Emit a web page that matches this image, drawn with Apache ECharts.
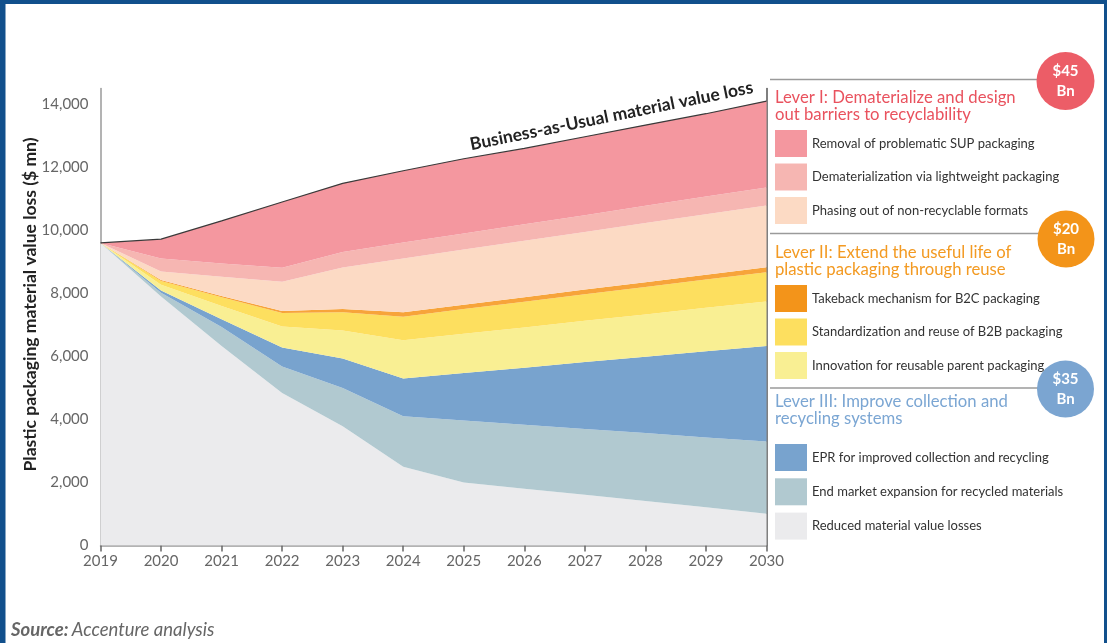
<!DOCTYPE html>
<html>
<head>
<meta charset="utf-8">
<script src="https://cdn.jsdelivr.net/npm/echarts@6/dist/echarts.min.js"></script>
<style>
html,body{margin:0;padding:0;background:#fff;}
#chart{width:1107px;height:643px;}
</style>
</head>
<body>
<div id="chart"></div>
<script>
// ---- data ----
const years = ['2019','2020','2021','2022','2023','2024','2025','2026','2027','2028','2029','2030'];
const yTicks = [0, 2000, 4000, 6000, 8000, 10000, 12000, 14000];

// layer thicknesses ($ mn), stacked bottom -> top
const reducedLosses    = [9600, 7900, 6330, 4840, 3780, 2500, 2000, 1800, 1610, 1410, 1210, 1010];
const endMarket        = [0, 120, 600, 840, 1220, 1600, 1970, 2030, 2090, 2160, 2220, 2290];
const eprCollection    = [0, 70, 250, 600, 930, 1200, 1500, 1810, 2120, 2420, 2730, 3030];
const innovationReuse  = [0, 180, 420, 670, 890, 1210, 1250, 1280, 1310, 1340, 1380, 1410];
const standardB2B      = [0, 120, 280, 430, 580, 750, 780, 810, 840, 870, 900, 930];
const takebackB2C      = [0, 30, 40, 60, 100, 140, 140, 150, 150, 150, 150, 160];
const phasingOut       = [0, 270, 610, 930, 1320, 1710, 1750, 1790, 1830, 1880, 1920, 1960];
const lightweight      = [0, 420, 420, 445, 490, 500, 510, 520, 530, 550, 560, 570];
const removalSUP       = [0, 610, 1350, 2085, 2180, 2280, 2370, 2410, 2490, 2560, 2630, 2740];

const names = {
  sup: 'Removal of problematic SUP packaging',
  light: 'Dematerialization via lightweight packaging',
  phase: 'Phasing out of non-recyclable formats',
  take: 'Takeback mechanism for B2C packaging',
  std: 'Standardization and reuse of B2B packaging',
  innov: 'Innovation for reusable parent packaging',
  epr: 'EPR for improved collection and recycling',
  end: 'End market expansion for recycled materials',
  red: 'Reduced material value losses'
};
const colors = {
  sup: '#f4979f', light: '#f6b6b2', phase: '#fcdac4',
  take: '#f7a43a', std: '#fddf5f', innov: '#f9ef93',
  epr: '#78a3ce', end: '#b1c9d0', red: '#ebebed'
};
const legendColors = Object.assign({}, colors, {take: '#f3941a'});

const FONT = 'Lato, "Noto Sans", sans-serif';

function area(key, data, extra) {
  return Object.assign({
    name: names[key], type: 'line', stack: 'total', data: data,
    symbol: 'none', showSymbol: false, smooth: false,
    color: colors[key],
    lineStyle: {width: 0, color: colors[key]},
    areaStyle: {color: colors[key], opacity: 1},
    emphasis: {disabled: true}, silent: true
  }, extra || {});
}

function legendBlock(keys, top, gap) {
  return {
    show: true, orient: 'vertical', left: 775, top: top,
    itemWidth: 32, itemHeight: 27, itemGap: gap, icon: 'rect',
    selectedMode: false, padding: 0,
    textStyle: {fontFamily: FONT, fontSize: 13, color: '#333'},
    data: keys.map(k => ({name: names[k], itemStyle: {color: legendColors[k], borderWidth: 0}}))
  };
}

const chart = echarts.init(document.getElementById('chart'));
const fmt = v => v > 14000 ? '' : String(v).replace(/\B(?=(\d{3})+(?!\d))/g, ',');

chart.setOption({
  animation: false,
  backgroundColor: '#ffffff',
  grid: {left: 100.5, top: 88.5, width: 666, height: 457},
  xAxis: {
    type: 'category', data: years, boundaryGap: false,
    axisLine: {lineStyle: {color: '#9a9a9a', width: 1.5}},
    axisTick: {show: true, length: 6, lineStyle: {color: '#666', width: 1.5}},
    axisLabel: {color: '#666', fontFamily: FONT, fontSize: 15, margin: 8},
    splitLine: {show: false}
  },
  yAxis: [{
    type: 'value', min: 0, max: 14500, interval: 2000,
    axisLine: {show: true, lineStyle: {color: '#9a9a9a', width: 1.5}},
    axisTick: {show: false},
    axisLabel: {color: '#666', fontFamily: FONT, fontSize: 15, margin: 12, formatter: fmt, showMaxLabel: false},
    splitLine: {show: false}
  }, {
    type: 'value', min: 0, max: 14500, interval: 2000, position: 'right',
    axisLine: {show: true, lineStyle: {color: '#555', width: 1.5}},
    axisTick: {show: false}, axisLabel: {show: false}, splitLine: {show: false}
  }],
  legend: [
    legendBlock(['sup', 'light', 'phase'], 130, 6.5),
    legendBlock(['take', 'std', 'innov'], 285, 6.5),
    legendBlock(['epr', 'end', 'red'], 444, 7.3)
  ],
  series: [
    area('red', reducedLosses),
    area('end', endMarket),
    area('epr', eprCollection),
    area('innov', innovationReuse),
    area('std', standardB2B),
    area('take', takebackB2C),
    area('phase', phasingOut),
    area('light', lightweight),
    area('sup', removalSUP, {lineStyle: {width: 1.2, color: '#3a3a3a'}, z: 3})
  ],
  graphic: [
    // frame
    {type: 'rect', shape: {x: 0, y: 0, width: 1107, height: 4}, style: {fill: '#11508c'}, silent: true},
    {type: 'rect', shape: {x: 0, y: 0, width: 5.5, height: 643}, style: {fill: '#11508c'}, silent: true},
    {type: 'rect', shape: {x: 1104, y: 0, width: 3, height: 643}, style: {fill: '#11508c'}, silent: true},
    // y axis title
    {type: 'text', x: 30, y: 304.5, rotation: Math.PI / 2,
     style: {text: 'Plastic packaging material value loss ($ mn)', fill: '#222', font: 'bold 17.5px ' + FONT, align: 'center', verticalAlign: 'middle'}, silent: true},
    // separators
    {type: 'line', shape: {x1: 770, y1: 79.5, x2: 1040, y2: 79.5}, style: {stroke: '#9a9a9a', lineWidth: 1.5}, silent: true},
    {type: 'line', shape: {x1: 770, y1: 233.5, x2: 1040, y2: 233.5}, style: {stroke: '#9a9a9a', lineWidth: 1.5}, silent: true},
    {type: 'line', shape: {x1: 770, y1: 388, x2: 1040, y2: 388}, style: {stroke: '#9a9a9a', lineWidth: 1.5}, silent: true},
    // circles
    {type: 'circle', shape: {cx: 1065.5, cy: 81, r: 29}, style: {fill: '#ec5d67'}, silent: true},
    {type: 'text', x: 1065.5, y: 81, style: {text: '$45\nBn', fill: '#fff', font: 'bold 15px ' + FONT, align: 'center', verticalAlign: 'middle', lineHeight: 20}, silent: true},
    {type: 'circle', shape: {cx: 1066, cy: 239, r: 28.5}, style: {fill: '#f39419'}, silent: true},
    {type: 'text', x: 1066, y: 239, style: {text: '$20\nBn', fill: '#fff', font: 'bold 15px ' + FONT, align: 'center', verticalAlign: 'middle', lineHeight: 20}, silent: true},
    {type: 'circle', shape: {cx: 1065.5, cy: 389, r: 28.5}, style: {fill: '#7ba5d1'}, silent: true},
    {type: 'text', x: 1065.5, y: 389, style: {text: '$35\nBn', fill: '#fff', font: 'bold 15px ' + FONT, align: 'center', verticalAlign: 'middle', lineHeight: 20}, silent: true},
    // lever headings
    {type: 'text', x: 775, y: 89.5, style: {text: 'Lever I: Dematerialize and design\nout barriers to recyclability', fill: '#e9525e', font: '16.7px ' + FONT, lineHeight: 17, verticalAlign: 'top'}, silent: true},
    {type: 'text', x: 775, y: 244, style: {text: 'Lever II: Extend the useful life of\nplastic packaging through reuse', fill: '#f39a22', font: '16.7px ' + FONT, lineHeight: 17, verticalAlign: 'top'}, silent: true},
    {type: 'text', x: 775, y: 393.5, style: {text: 'Lever III: Improve collection and\nrecycling systems', fill: '#7ba6d3', font: '16.7px ' + FONT, lineHeight: 17, verticalAlign: 'top'}, silent: true},
    // BAU label
    {type: 'text', x: 611.5, y: 116, rotation: 11.5 * Math.PI / 180,
     style: {text: 'Business-as-Usual material value loss', fill: '#222', font: 'bold 17.5px ' + FONT, align: 'center', verticalAlign: 'middle'}, silent: true},
    // source
    {type: 'text', x: 11, y: 630, style: {
      text: '{b|Source:} {i|Accenture analysis}', verticalAlign: 'middle',
      rich: {b: {font: 'italic bold 18.5px ' + FONT, fill: '#666'}, i: {font: 'italic 18.5px ' + FONT, fill: '#666'}}
    }, silent: true}
  ]
});
</script>
</body>
</html>
